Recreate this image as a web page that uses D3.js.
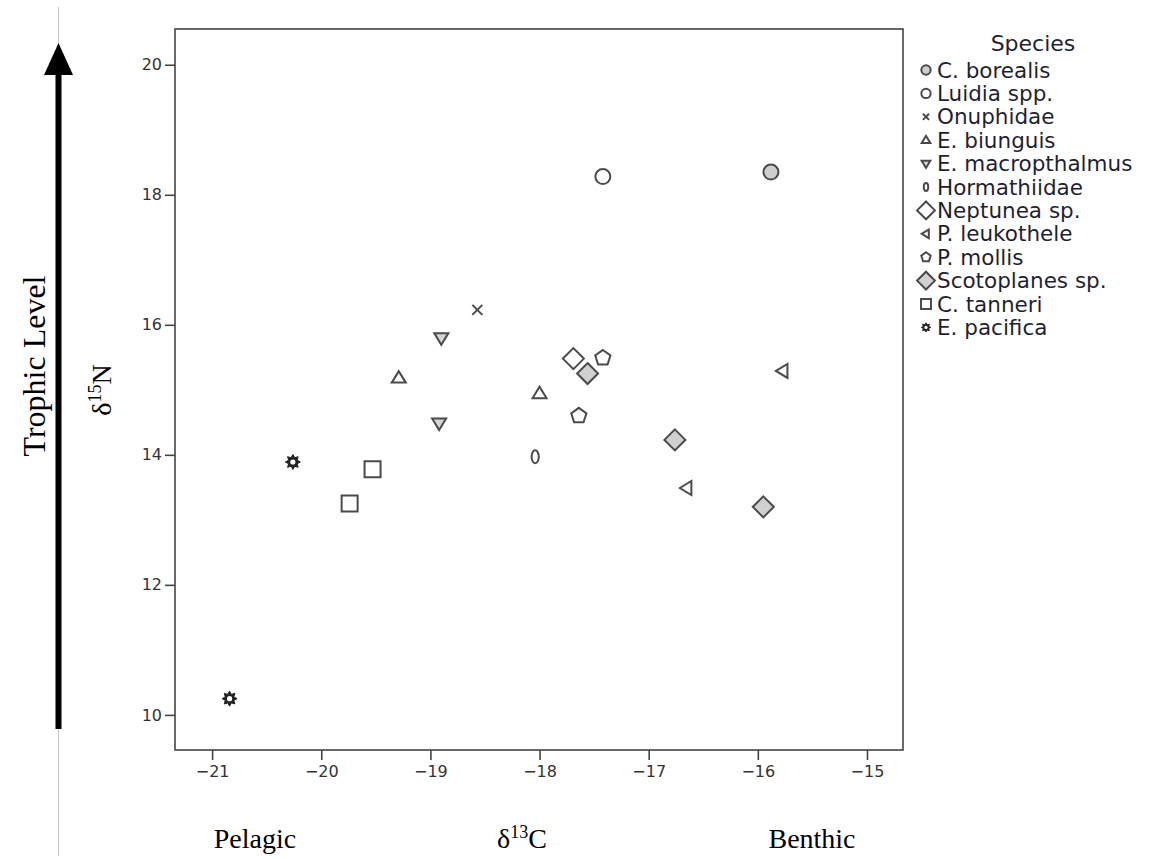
<!DOCTYPE html>
<html>
<head>
<meta charset="utf-8">
<script src="https://cdn.jsdelivr.net/npm/d3@7"></script>
<style>
  body { margin: 0; background: #fff; }
  svg { display: block; }
</style>
</head>
<body>
<script>
// species in legend order
var species = ["C. borealis", "Luidia spp.", "Onuphidae", "E. biunguis", "E. macropthalmus",
  "Hormathiidae", "Neptunea sp.", "P. leukothele", "P. mollis", "Scotoplanes sp.",
  "C. tanneri", "E. pacifica"];
var shapes = ["circleGray", "circle", "cross", "triUp", "triDown", "oval", "diamond",
  "triLeft", "pentagon", "diamondGray", "square", "star"];

// one entry per sample
var pointSpecies = ["C. borealis", "Luidia spp.", "Onuphidae", "E. biunguis", "E. biunguis",
  "E. macropthalmus", "E. macropthalmus", "Hormathiidae", "Neptunea sp.",
  "P. leukothele", "P. leukothele", "P. mollis", "P. mollis",
  "Scotoplanes sp.", "Scotoplanes sp.", "Scotoplanes sp.",
  "C. tanneri", "C. tanneri", "E. pacifica", "E. pacifica"];
var d13C = [-15.88, -17.42, -18.57, -19.29, -18.00, -18.90, -18.92, -18.04, -17.69,
  -15.77, -16.65, -17.42, -17.64, -17.56, -16.76, -15.95, -19.53, -19.74, -20.26, -20.84];
var d15N = [18.35, 18.28, 16.23, 15.18, 14.94, 15.80, 14.49, 13.97, 15.48,
  15.29, 13.49, 15.49, 14.60, 15.25, 14.23, 13.20, 13.78, 13.25, 13.89, 10.25];

var xTicks = [-21, -20, -19, -18, -17, -16, -15];
var yTicks = [10, 12, 14, 16, 18, 20];

var W = 1158, H = 859;
var plot = {left: 175, right: 903, top: 29, bottom: 750};

var svg = d3.select("body").append("svg").attr("width", W).attr("height", H);

var x = d3.scaleLinear().domain([-21.34, -14.67]).range([plot.left, plot.right]);
var y = d3.scaleLinear().domain([9.46, 20.55]).range([plot.bottom, plot.top]);

// side gray guide line + trophic arrow
svg.append("line").attr("x1", 58.5).attr("x2", 58.5).attr("y1", 7).attr("y2", 856)
  .attr("stroke", "#c8c8c8").attr("stroke-width", 1);
svg.append("rect").attr("x", 55.5).attr("y", 72).attr("width", 6).attr("height", 657).attr("fill", "#000");
svg.append("path").attr("d", "M44,75 L58.5,43 L73,75 Z").attr("fill", "#000");

// frame
svg.append("rect").attr("x", plot.left).attr("y", plot.top)
  .attr("width", plot.right - plot.left).attr("height", plot.bottom - plot.top)
  .attr("fill", "none").attr("stroke", "#444").attr("stroke-width", 1.6);

var yAxis = svg.append("g").attr("transform", "translate(" + plot.left + ",0)")
  .call(d3.axisLeft(y).tickValues(yTicks).tickSize(10).tickPadding(3));
var xAxis = svg.append("g").attr("transform", "translate(0," + plot.bottom + ")")
  .call(d3.axisBottom(x).tickValues(xTicks).tickSize(10).tickPadding(6)
    .tickFormat(function (d) { return "\u2212" + Math.abs(d); }));
[yAxis, xAxis].forEach(function (g) {
  g.select(".domain").remove();
  g.selectAll(".tick line").attr("stroke", "#444").attr("stroke-width", 1.6);
  g.selectAll(".tick text").attr("fill", "#333")
    .style("font-family", "'DejaVu Sans', sans-serif").style("font-size", "16px");
});

// marker shapes, centered at 0,0
function shapePath(s, k) {
  var r;
  switch (s) {
    case "cross": r = 5 * k; return "M" + -r + "," + -r + "L" + r + "," + r + "M" + -r + "," + r + "L" + r + "," + -r;
    case "triUp": r = 7 * k; return "M" + -r + "," + (4.5 * k) + "L0," + (-7 * k) + "L" + r + "," + (4.5 * k) + "Z";
    case "triDown": r = 7 * k; return "M" + -r + "," + (-4.5 * k) + "L0," + (7 * k) + "L" + r + "," + (-4.5 * k) + "Z";
    case "triLeft": r = 7 * k; return "M" + (-7 * k) + ",0L" + (4.5 * k) + "," + -r + "L" + (4.5 * k) + "," + r + "Z";
    case "diamond": case "diamondGray": r = 10.5 * k; return "M0," + -r + "L" + r + ",0L0," + r + "L" + -r + ",0Z";
    case "square": r = 8 * k; return "M" + -r + "," + -r + "H" + r + "V" + r + "H" + -r + "Z";
    case "pentagon":
      return d3.range(5).map(function (i) {
        var a = -Math.PI / 2 + i * 2 * Math.PI / 5;
        return (i ? "L" : "M") + (8 * k * Math.cos(a)) + "," + (8 * k * Math.sin(a));
      }).join("") + "Z";
    case "star":
      return d3.range(16).map(function (i) {
        var a = -Math.PI / 2 + i * Math.PI / 8, rr = (i % 2 ? 4.6 : 7.5) * k;
        return (i ? "L" : "M") + (rr * Math.cos(a)) + "," + (rr * Math.sin(a));
      }).join("") + "Z";
  }
}

function drawMarker(g, s, k) {
  var stroke = "#4a4a4a";
  if (s === "circle" || s === "circleGray") {
    g.append("circle").attr("r", 7.5 * k).attr("fill", s === "circleGray" ? "#cfcfcf" : "#fff")
      .attr("stroke", stroke).attr("stroke-width", 2);
  } else if (s === "oval") {
    g.append("ellipse").attr("rx", 3.6 * k).attr("ry", 6.5 * k).attr("fill", "#fff")
      .attr("stroke", stroke).attr("stroke-width", 2);
  } else if (s === "star") {
    g.append("path").attr("d", shapePath(s, k)).attr("fill", "#222").attr("stroke", "#222").attr("stroke-width", 1);
    g.append("circle").attr("r", 2.6 * k).attr("fill", "#fff");
  } else {
    var fill = "#fff";
    if (s === "diamondGray") fill = "#d0d0d0";
    if (s === "triDown") fill = "#d6d6d6";
    if (s === "cross") fill = "none";
    g.append("path").attr("d", shapePath(s, k)).attr("fill", fill)
      .attr("stroke", stroke).attr("stroke-width", 2).attr("stroke-linejoin", "miter");
  }
}

var shapeOf = {};
species.forEach(function (s, i) { shapeOf[s] = shapes[i]; });

var pts = pointSpecies.map(function (s, i) { return {sp: s, cx: d13C[i], cy: d15N[i]}; });
svg.append("g").selectAll("g").data(pts).enter().append("g")
  .attr("transform", function (d) { return "translate(" + x(d.cx) + "," + y(d.cy) + ")"; })
  .each(function (d) { drawMarker(d3.select(this), shapeOf[d.sp], 1); });

// legend
var lg = svg.append("g").attr("transform", "translate(926,0)");
lg.append("text").attr("x", 107).attr("y", 51).attr("text-anchor", "middle")
  .style("font-family", "'DejaVu Sans', sans-serif").style("font-size", "22px").attr("fill", "#1f1f33")
  .text("Species");
var items = lg.selectAll("g.item").data(species).enter().append("g").attr("class", "item")
  .attr("transform", function (d, i) { return "translate(0," + (70 + i * 23.4) + ")"; });
items.each(function (d, i) {
  var big = shapes[i] === "diamond" || shapes[i] === "diamondGray";
  drawMarker(d3.select(this), shapes[i], big ? 0.85 : 0.62);
});
items.append("text").attr("x", 11).attr("y", 7.5)
  .style("font-family", "'DejaVu Sans', sans-serif").style("font-size", "21.5px").attr("fill", "#1f1f33")
  .text(function (d) { return d; });

// axis titles
var serif = "'Liberation Serif', 'Times New Roman', serif";
var tN = svg.append("text").attr("transform", "translate(111,390) rotate(-90)").attr("text-anchor", "middle")
  .style("font-family", serif).style("font-size", "28px").attr("fill", "#000");
tN.append("tspan").text("\u03b4");
tN.append("tspan").attr("dy", -10).style("font-size", "18px").text("15");
tN.append("tspan").attr("dy", 10).text("N");

svg.append("text").attr("transform", "translate(45,366) rotate(-90)").attr("text-anchor", "middle")
  .style("font-family", serif).style("font-size", "32px").attr("fill", "#000").text("Trophic Level");

var bottomTitles = [["Pelagic", 255], ["Benthic", 812]];
bottomTitles.forEach(function (t) {
  svg.append("text").attr("x", t[1]).attr("y", 848).attr("text-anchor", "middle")
    .style("font-family", serif).style("font-size", "28px").attr("fill", "#000").text(t[0]);
});
var tC = svg.append("text").attr("x", 522).attr("y", 848).attr("text-anchor", "middle")
  .style("font-family", serif).style("font-size", "28px").attr("fill", "#000");
tC.append("tspan").text("\u03b4");
tC.append("tspan").attr("dy", -10).style("font-size", "18px").text("13");
tC.append("tspan").attr("dy", 10).text("C");
</script>
</body>
</html>
